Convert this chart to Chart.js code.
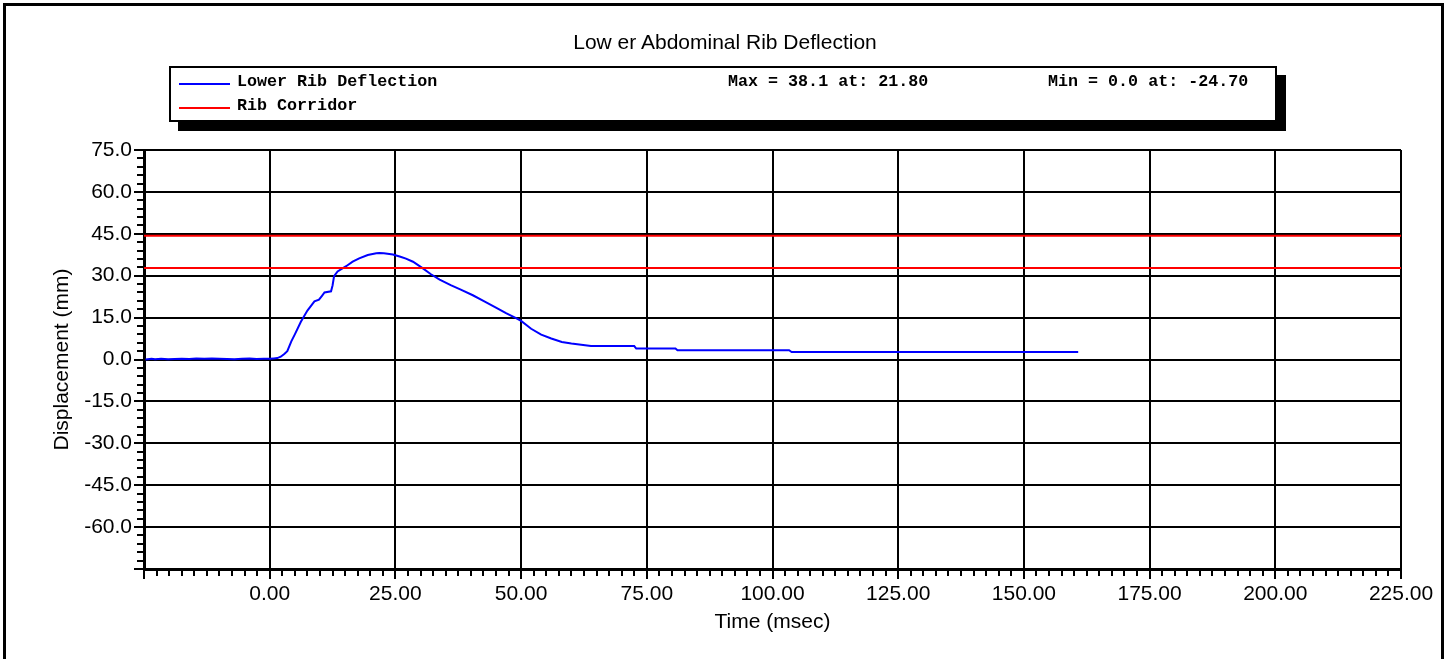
<!DOCTYPE html>
<html lang="en">
<head>
    <meta charset="UTF-8">
    <title>Lower Abdominal Rib Deflection</title>
    <script src="https://cdn.jsdelivr.net/npm/chart.js@4.4.0/dist/chart.umd.min.js"></script>
    <style>
        html, body {
            margin: 0;
            padding: 0;
            background: #fff;
            overflow: hidden;
        }
        #wrap {
            position: relative;
            width: 1450px;
            height: 659px;
        }
        #frame {
            position: absolute;
            left: 3px;
            top: 3px;
            width: 1435px;
            height: 720px;
            border: 3px solid #000;
            pointer-events: none;
        }
        #chartTitle {
            position: absolute;
            left: 0;
            top: 30px;
            width: 1450px;
            text-align: center;
            font-family: Arial, "Liberation Sans", sans-serif;
            font-size: 21px;
            line-height: 24px;
            color: #000;
            white-space: pre;
        }
        #legendBox {
            position: absolute;
            left: 169px;
            top: 66px;
            width: 1108px;
            height: 56px;
            box-sizing: border-box;
            border: 2px solid #000;
            box-shadow: 9px 9px 0 #000;
            background: #fff;
            font-family: "Liberation Mono", "Courier New", monospace;
            font-weight: bold;
            font-size: 16.7px;
            color: #000;
        }
        #legendBox .swatch {
            position: absolute;
            width: 51px;
            height: 2px;
        }
        #legendBox .txt {
            position: absolute;
            line-height: 20px;
            white-space: pre;
        }
    </style>
</head>
<body>
<div id="wrap">
    <canvas id="ribChart" width="1450" height="659"></canvas>
    <div id="chartTitle">Low er Abdominal Rib Deflection</div>
    <div id="legendBox"></div>
    <div id="frame"></div>
</div>

<script>
    // time axis (msec) and lower rib deflection (mm)
    const timeMs = [
        -24.7, -23.5, -22.8, -21.6, -20.2, -18.9, -17.5, -16.0, -14.6, -13.0,
        -11.5, -10.0, -8.5, -7.0, -5.5, -4.0, -2.6, -1.2, 0.0, 0.8,
        1.5, 2.2, 2.9, 3.5, 4.3, 5.0, 6.2, 7.5, 8.9, 9.8,
        10.4, 10.9, 12.2, 12.5, 12.8, 13.5, 15.2, 16.5, 17.8, 19.5,
        21.2, 21.8, 22.7, 24.5, 26.0, 27.1, 28.5, 30.4, 32.0, 33.8,
        36.0, 38.0, 40.4, 42.5, 45.0, 47.0, 49.0, 50.0, 52.0, 54.0,
        56.0, 58.1, 60.0, 63.9, 72.5, 72.9, 80.7, 81.1, 103.3, 103.8,
        160.8
    ];
    const lowerRib = [
        0.0, 0.3, 0.1, 0.3, 0.1, 0.2, 0.3, 0.2, 0.4, 0.3,
        0.4, 0.3, 0.2, 0.1, 0.3, 0.4, 0.2, 0.3, 0.3, 0.4,
        0.5, 1.0, 2.0, 3.0, 6.5, 9.0, 13.5, 17.5, 20.8, 21.4,
        22.8, 24.0, 24.4, 26.5, 29.8, 31.5, 33.4, 35.0, 36.2, 37.4,
        38.0, 38.1, 38.0, 37.6, 36.8, 36.1, 35.0, 32.7, 30.6, 28.6,
        26.6, 25.0, 23.0, 21.0, 18.6, 16.6, 14.8, 13.8, 11.0, 8.9,
        7.5, 6.3, 5.7, 4.8, 4.8, 3.9, 3.9, 3.3, 3.3, 2.7,
        2.7
    ];

    // rib corridor limits (mm)
    const corridorTime = [-25, 225];
    const corridorUpper = 44.3;
    const corridorLower = 32.8;

    // axes
    const X_MIN = -25, X_MAX = 225, X_STEP = 25, X_MINOR = 2.5;
    const Y_MIN = -75, Y_MAX = 75, Y_STEP = 15, Y_MINOR = 3;

    const BLUE = '#0000ff';
    const RED = '#ff0000';
    const FONT_SIZE = 21;

    // max / min of the deflection trace for the legend line
    let maxI = 0, minI = 0;
    lowerRib.forEach((v, i) => {
        if (v > lowerRib[maxI]) maxI = i;
        if (v < lowerRib[minI]) minI = i;
    });
    const maxText = `Max = ${lowerRib[maxI].toFixed(1)} at: ${timeMs[maxI].toFixed(2)}`;
    const minText = `Min = ${lowerRib[minI].toFixed(1)} at: ${timeMs[minI].toFixed(2)}`;

    // legend box (html)
    const legend = document.getElementById('legendBox');
    function addSwatch(color, top) {
        const s = document.createElement('div');
        s.className = 'swatch';
        s.style.left = '8px';
        s.style.top = top + 'px';
        s.style.background = color;
        legend.appendChild(s);
    }
    function addText(text, left, top) {
        const t = document.createElement('div');
        t.className = 'txt';
        t.style.left = left + 'px';
        t.style.top = top + 'px';
        t.textContent = text;
        legend.appendChild(t);
    }
    addSwatch(BLUE, 15);
    addText('Lower Rib Deflection', 66, 4);
    addText(maxText, 557, 4);
    addText(minText, 877, 4);
    addSwatch(RED, 39);
    addText('Rib Corridor', 66, 28);

    // minor tick marks outside the plot, placed through the scales
    const minorTicks = {
        id: 'minorTicks',
        afterDraw(chart) {
            const { ctx, scales: { x, y } } = chart;
            ctx.save();
            ctx.strokeStyle = '#000';
            ctx.lineWidth = 2;
            ctx.beginPath();
            for (let v = Y_MIN; v <= Y_MAX + 0.001; v += Y_MINOR) {
                const py = Math.round(y.getPixelForValue(v));
                ctx.moveTo(y.right - 7, py);
                ctx.lineTo(y.right, py);
            }
            for (let v = X_MIN; v <= X_MAX + 0.001; v += X_MINOR) {
                const px = Math.round(x.getPixelForValue(v));
                ctx.moveTo(px, x.top);
                ctx.lineTo(px, x.top + 7);
            }
            ctx.stroke();
            ctx.restore();
        }
    };

    Chart.defaults.font.family = 'Arial, "Liberation Sans", sans-serif';
    Chart.defaults.color = '#000';

    new Chart(document.getElementById('ribChart'), {
        type: 'line',
        data: {
            datasets: [
                {
                    label: 'Rib Corridor',
                    data: corridorTime.map(t => ({ x: t, y: corridorUpper })),
                    borderColor: RED,
                    borderWidth: 2,
                    pointRadius: 0
                },
                {
                    label: 'Rib Corridor lower',
                    data: corridorTime.map(t => ({ x: t, y: corridorLower })),
                    borderColor: RED,
                    borderWidth: 2,
                    pointRadius: 0
                },
                {
                    label: 'Lower Rib Deflection',
                    data: timeMs.map((t, i) => ({ x: t, y: lowerRib[i] })),
                    borderColor: BLUE,
                    borderWidth: 2,
                    pointRadius: 0,
                    tension: 0
                }
            ]
        },
        options: {
            responsive: false,
            animation: false,
            layout: { padding: { left: 0, right: 49, top: 150, bottom: 0 } },
            plugins: {
                legend: { display: false },
                tooltip: { enabled: false },
                title: { display: false }
            },
            scales: {
                x: {
                    type: 'linear',
                    min: X_MIN,
                    max: X_MAX,
                    afterFit: s => { s.height = 90; },
                    ticks: {
                        stepSize: X_STEP,
                        padding: 3,
                        maxRotation: 0,
                        autoSkip: false,
                        font: { size: FONT_SIZE },
                        callback: v => (v === X_MIN ? '' : Number(v).toFixed(2))
                    },
                    grid: {
                        color: '#000',
                        lineWidth: 2,
                        tickLength: 10,
                        tickWidth: 2,
                        tickColor: '#000'
                    },
                    border: { display: true, color: '#000', width: 3 },
                    title: {
                        display: true,
                        text: 'Time (msec)',
                        font: { size: FONT_SIZE },
                        padding: { top: 0, bottom: 24 }
                    }
                },
                y: {
                    min: Y_MIN,
                    max: Y_MAX,
                    afterFit: s => { s.width = 144; },
                    ticks: {
                        stepSize: Y_STEP,
                        padding: 2,
                        font: { size: FONT_SIZE },
                        callback: v => (v === Y_MIN ? '' : Number(v).toFixed(1))
                    },
                    grid: {
                        color: '#000',
                        lineWidth: 2,
                        tickLength: 10,
                        tickWidth: 2,
                        tickColor: '#000'
                    },
                    border: { display: true, color: '#000', width: 3 },
                    title: {
                        display: true,
                        text: 'Displacement (mm)',
                        font: { size: FONT_SIZE },
                        padding: { top: 50, bottom: 0 }
                    }
                }
            }
        },
        plugins: [minorTicks]
    });
</script>
</body>
</html>
